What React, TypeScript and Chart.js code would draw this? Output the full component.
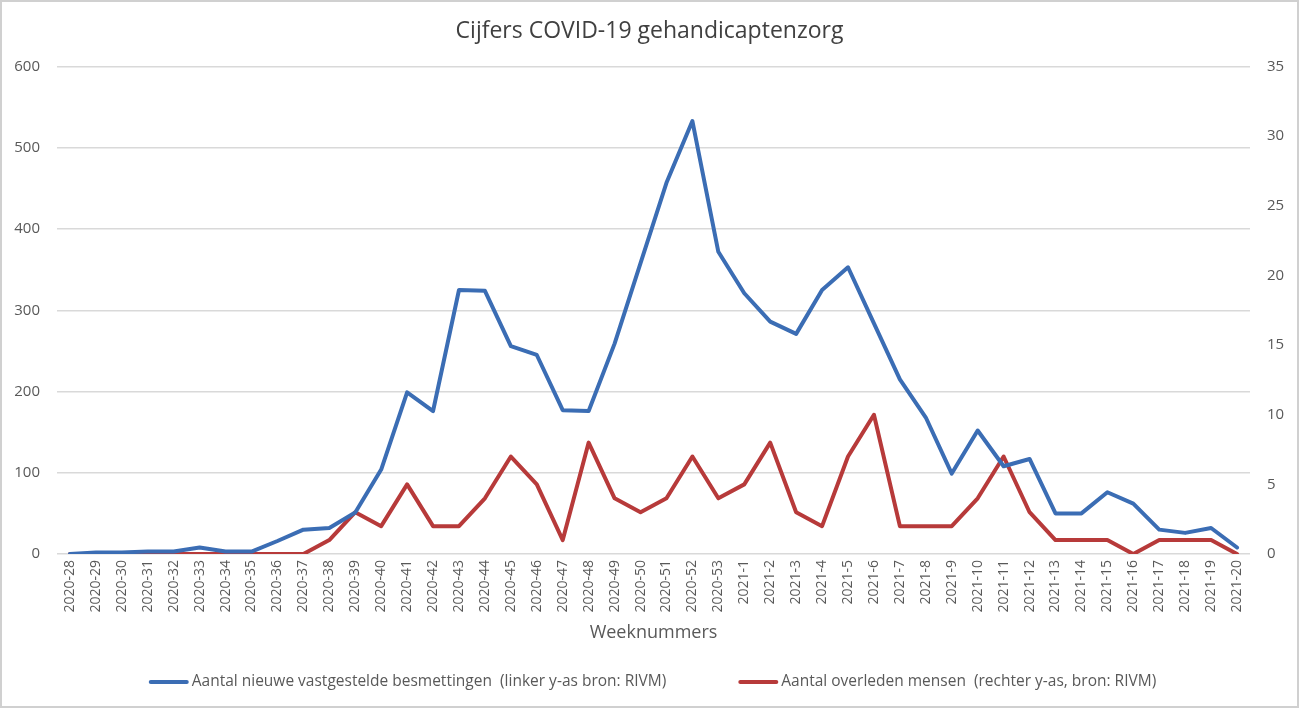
import React, { useEffect, useRef } from "react";
import { Chart, registerables } from "chart.js";

Chart.register(...registerables);

const weeks: string[] = [
  "2020-28", "2020-29", "2020-30", "2020-31", "2020-32", "2020-33", "2020-34", "2020-35", "2020-36", "2020-37",
  "2020-38", "2020-39", "2020-40", "2020-41", "2020-42", "2020-43", "2020-44", "2020-45", "2020-46", "2020-47",
  "2020-48", "2020-49", "2020-50", "2020-51", "2020-52", "2020-53",
  "2021-1", "2021-2", "2021-3", "2021-4", "2021-5", "2021-6", "2021-7", "2021-8", "2021-9", "2021-10",
  "2021-11", "2021-12", "2021-13", "2021-14", "2021-15", "2021-16", "2021-17", "2021-18", "2021-19", "2021-20",
];

const besmettingen: number[] = [
  0, 2, 2, 3, 3, 8, 3, 3, 16, 30,
  32, 51, 104, 199, 176, 325, 324, 256, 245, 177,
  176, 259, 358, 457, 533, 372,
  321, 286, 271, 325, 353, 284, 215, 168, 99, 152,
  108, 117, 50, 50, 76, 62, 30, 26, 32, 8,
];

const overleden: number[] = [
  0, 0, 0, 0, 0, 0, 0, 0, 0, 0,
  1, 3, 2, 5, 2, 2, 4, 7, 5, 1,
  8, 4, 3, 4, 7, 4,
  5, 8, 3, 2, 7, 10, 2, 2, 2, 4,
  7, 3, 1, 1, 1, 0, 1, 1, 1, 0,
];

const titleText = "Cijfers COVID-19 gehandicaptenzorg";
const xTitle = "Weeknummers";
const labelBlue = "Aantal nieuwe vastgestelde besmettingen  (linker y-as bron: RIVM)";
const labelRed = "Aantal overleden mensen  (rechter y-as, bron: RIVM)";

const BLUE = "#3B6DB4";
const RED = "#B73A3A";
const FONT = "'Open Sans', sans-serif";
const TEXT = "#595959";

const W = 1299;
const H = 709;

export default function App() {
  const ref = useRef<HTMLCanvasElement | null>(null);

  useEffect(() => {
    if (!ref.current) return;

    const borderPlugin = {
      id: "outerBorder",
      beforeDraw(chart: any) {
        const ctx = chart.ctx;
        ctx.save();
        ctx.fillStyle = "#ffffff";
        ctx.fillRect(0, 0, chart.width, chart.height);
        ctx.strokeStyle = "#d0d0d0";
        ctx.lineWidth = 2;
        ctx.strokeRect(1, 1, chart.width - 2, chart.height - 3);
        ctx.restore();
      },
    };

    // Excel-style legend: line sample, tight text, wide gap between entries
    const lineLegend = {
      id: "lineLegend",
      afterDraw(chart: any) {
        const ctx = chart.ctx;
        const fontSize = 15.5;
        const sample = 40;
        const textGap = 3;
        const itemGap = 72;
        const y = 682;
        ctx.save();
        ctx.font = `${fontSize}px ${FONT}`;
        const items = chart.data.datasets.map((ds: any) => ({
          text: ds.label as string,
          color: ds.borderColor as string,
          w: ctx.measureText(ds.label).width,
        }));
        const total =
          items.reduce((s: number, it: any) => s + sample + textGap + it.w, 0) + itemGap * (items.length - 1);
        let x = chart.width / 2 + 3 - total / 2;
        items.forEach((it: any) => {
          ctx.strokeStyle = it.color;
          ctx.lineWidth = 4;
          ctx.lineCap = "round";
          ctx.beginPath();
          ctx.moveTo(x + 2, y);
          ctx.lineTo(x + sample - 2, y);
          ctx.stroke();
          ctx.fillStyle = TEXT;
          ctx.textBaseline = "middle";
          ctx.textAlign = "left";
          ctx.fillText(it.text, x + sample + textGap, y);
          x += sample + textGap + it.w + itemGap;
        });
        ctx.restore();
      },
    };

    const chart = new Chart(ref.current, {
      type: "line",
      data: {
        labels: weeks,
        datasets: [
          {
            label: labelBlue,
            data: besmettingen,
            borderColor: BLUE,
            backgroundColor: BLUE,
            borderWidth: 4,
            borderCapStyle: "round",
            borderJoinStyle: "round",
            pointRadius: 0,
            tension: 0,
            yAxisID: "y",
          },
          {
            label: labelRed,
            data: overleden,
            borderColor: RED,
            backgroundColor: RED,
            borderWidth: 4,
            borderCapStyle: "round",
            borderJoinStyle: "round",
            pointRadius: 0,
            tension: 0,
            yAxisID: "y1",
          },
        ],
      },
      options: {
        responsive: false,
        maintainAspectRatio: false,
        animation: false,
        layout: { padding: { left: 0, right: 0, top: 0, bottom: 43 } },
        plugins: {
          title: {
            display: true,
            text: titleText,
            color: "#404040",
            font: { family: FONT, size: 23, weight: "normal", lineHeight: 1.2 },
            padding: { top: 18, bottom: 21 },
          },
          legend: { display: false },
          tooltip: { enabled: false },
        },
        scales: {
          x: {
            offset: true,
            grid: { display: false, drawTicks: false },
            border: { display: false },
            ticks: {
              color: TEXT,
              font: { family: FONT, size: 14 },
              minRotation: 90,
              maxRotation: 90,
              autoSkip: false,
              padding: 6,
            },
            title: {
              display: true,
              text: xTitle,
              color: TEXT,
              font: { family: FONT, size: 18, lineHeight: 1.2 },
              padding: { top: 0, bottom: 22 },
            },
            afterFit(scale: any) {
              scale.height = 112;
            },
          },
          y: {
            position: "left",
            min: 0,
            max: 600,
            ticks: {
              stepSize: 100,
              color: TEXT,
              font: { family: FONT, size: 15 },
              padding: 17,
            },
            grid: { color: "#d9d9d9", lineWidth: 1.5, drawTicks: false },
            border: { display: false },
            afterFit(scale: any) {
              scale.width = 57;
            },
          },
          y1: {
            position: "right",
            min: 0,
            max: 35,
            ticks: {
              stepSize: 5,
              color: TEXT,
              font: { family: FONT, size: 15 },
              padding: 17,
            },
            grid: { display: false, drawTicks: false },
            border: { display: false },
            afterFit(scale: any) {
              scale.width = 49;
            },
          },
        },
      },
      plugins: [borderPlugin, lineLegend],
    } as any);
    return () => chart.destroy();
  }, []);

  return (
    <div style={{ position: "absolute", left: 0, top: 0, width: W, height: H, background: "#fff" }}>
      <canvas ref={ref} width={W} height={H} style={{ width: W, height: H, display: "block" }} />
    </div>
  );
}
